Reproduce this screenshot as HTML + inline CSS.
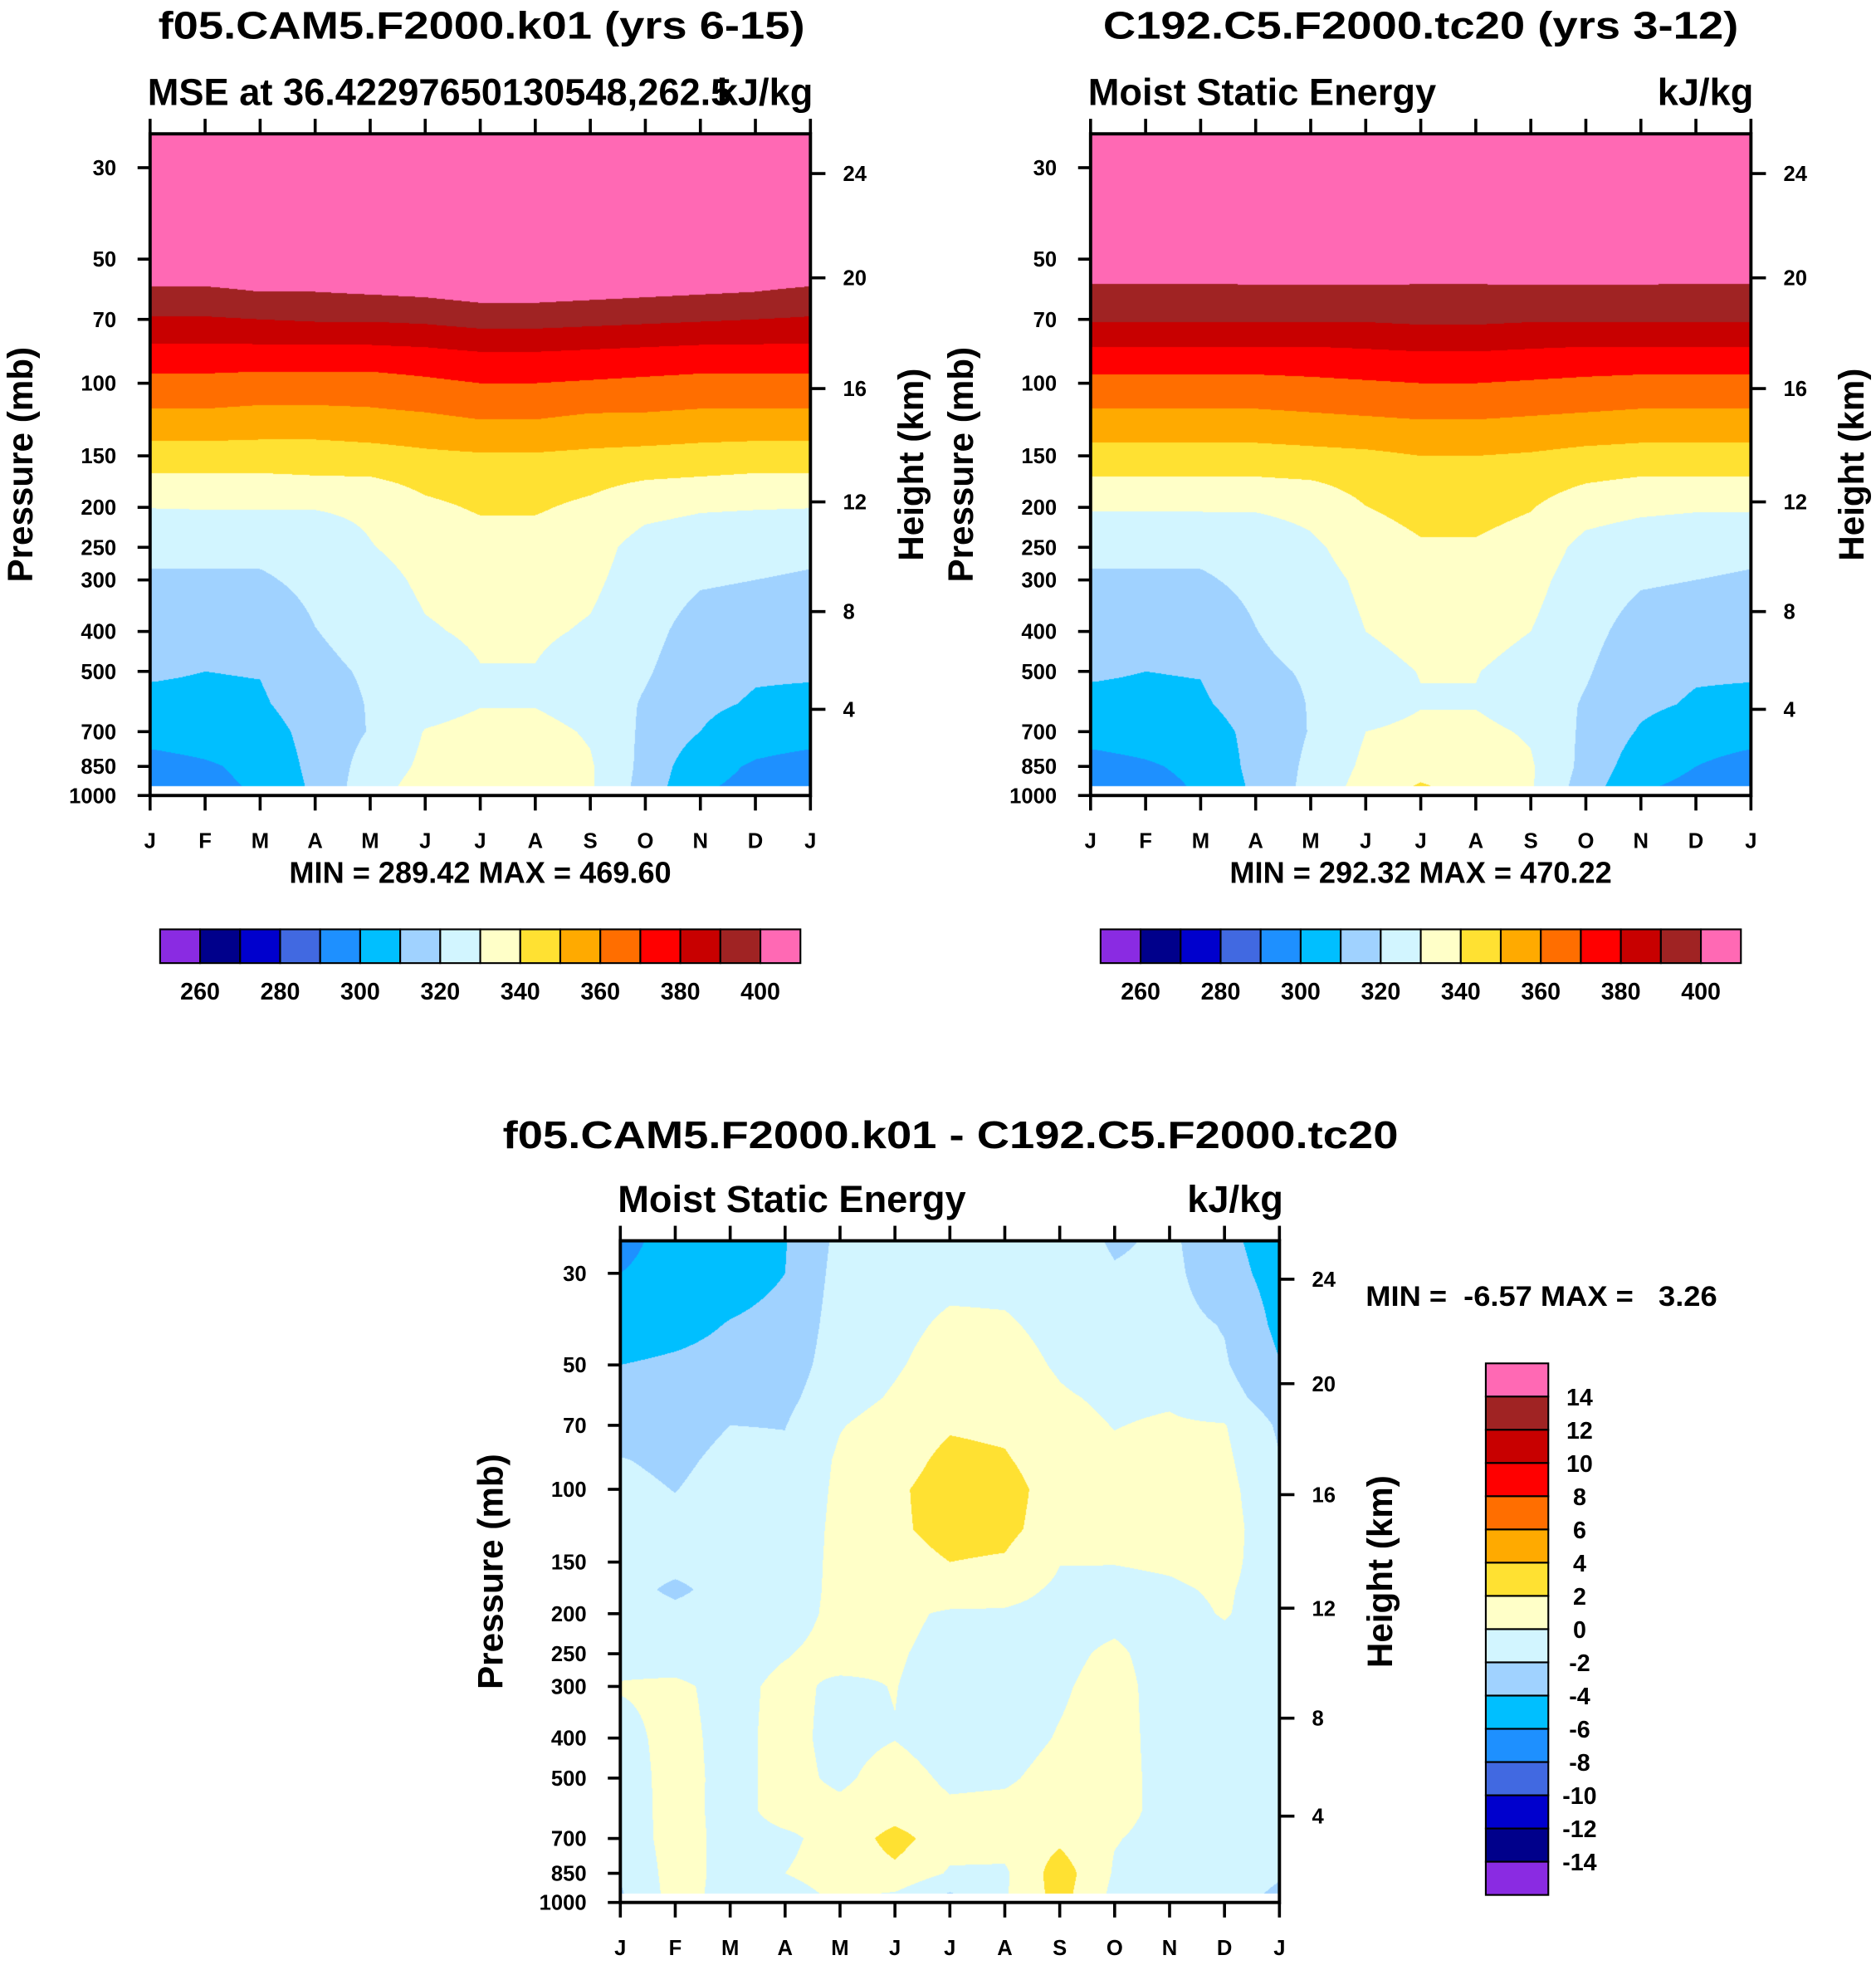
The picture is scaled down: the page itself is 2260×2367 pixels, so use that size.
<!DOCTYPE html>
<html><head><meta charset="utf-8"><title>MSE annual cycle</title>
<style>
html,body{margin:0;padding:0;background:#fff;}
#root{position:relative;width:2260px;height:2367px;background:#fff;overflow:hidden;}
canvas{position:absolute;}
svg{position:absolute;left:0;top:0;}
text{font-family:"Liberation Sans",Arial,sans-serif;font-weight:bold;fill:#000;}
</style></head>
<body>
<div id="root">
<canvas id="c1"></canvas>
<canvas id="c2"></canvas>
<canvas id="c3"></canvas>
<svg id="ov" width="2260" height="2367" viewBox="0 0 1500 1571" preserveAspectRatio="none"></svg>
</div>
<script>
// ---------- DATA ----------
const months = ["J","F","M","A","M","J","J","A","S","O","N","D","J"];
const levels = [25,30,40,50,60,70,85,100,125,150,175,200,250,300,400,500,600,700,850,950];
const pressureTicks = [30,50,70,100,150,200,250,300,400,500,700,850,1000];
const heightTicks = [4,8,12,16,20,24];
const heightTickP = [618,358,194,103,55.5,31];
const mseLevelsA = [260,280,300,320,340,360,380,400];
const diffLevels = [14,12,10,8,6,4,2,0,-2,-4,-6,-8,-10,-12,-14];
const palette = ["#8a2be2","#00008b","#0000cd","#4169e1","#1e90ff","#00bfff","#a0d2ff","#d2f5ff","#ffffc8","#ffe132","#ffaa00","#ff6e00","#ff0000","#c80000","#a02323","#ff69b4"];

// control run (f05.CAM5) MSE kJ/kg, rows = levels, cols = months
const mseCtl = [
[430,430,430,430,430,430,430,430,430,430,430,430,430],
[425,425,425,425,425,425,425,425,425,425,425,425,425],
[420,420,420,420,420,420,420,420,420,420,420,420,420],
[410,410,410,411,411,412,413,413,412,411,411,410,410],
[398,398,400,400,401,402,404,404,403,402,401,400,398],
[389,389,390,391,391,392,394,394,393,392,391,390,389],
[376,376,376,376,376,377,379,379,378,377,376,376,376],
[367,367,366,366,366,368,370,370,369,368,367,367,367],
[356,356,355,355,356,357,359,359,357,357,356,356,356],
[345,345,345,345,346,348,349,349,348,347,346,345,345],
[337,337,337,338,338,342,344,344,342,339,338,337,337],
[330.2,330.5,330.5,330.5,332,338,341,341,338,333,331,330.5,330.2],
[322,322,322,323,329.5,334,336,336,334,326,324,323,322],
[319,319,319,322,326,332,334,334,332,325,321,320,319],
[314,314,314,319.8,323,329,331.5,331.5,329,323,316,315,314],
[311,310,310.5,318,321,325,329.6,329.6,325,321,314,311,311],
[308,308,308.5,316,320.5,326,329.5,329.5,326,319,312,309,308],
[303,304,305,314,320.5,330.5,333,333,329,318,310,304,303],
[297,299,302,313,324,332,336,336,331,317,303,299,297],
[295,298,301,312,326,334,337,337,331,316,301,298,295]];

// test run (C192.C5) MSE kJ/kg
const mseTest = [
[430,430,430,430,430,430,430,430,430,430,430,430,430],
[425,425,425,425,425,425,425,425,425,425,425,425,425],
[420,420,420,420,420,420,420,420,420,420,420,420,420],
[409,409,409,409,409,409,410,410,409,409,409,409,409],
[397,397,397,397.5,397.5,397.5,397,397,397.5,397.5,397.5,397,397],
[391,391,391,391,391,391,392,392,391,391,391,391,391],
[377,377,377,377,377,378,379,379,378,377,377,377,377],
[367,367,367,367,368,369,370,370,369,368,367,367,367],
[356,356,356,356,357,358,359,359,358,357,356,356,356],
[346,346,346,346,347,348,350,350,349,347,346,346,346],
[338,338,338,338,339,343,346,346,344,340,338,338,338],
[331,331,331,331,333,339.8,343,343,340.5,334,332,331,331],
[322,322,322,323,328,335,339,339,336,327,324,323,322],
[319,319,319,322,326,332,336,336,333,325,321,320,319],
[314,314,314,319.8,324,330,333,333,330,323,316,315,314],
[311,310,310.5,318,321,327,330.3,330.3,327,321,313,311,311],
[308,308,308.5,315,320.5,326,329.5,329.5,326,319,312,309,308],
[303,304,305,313,320.5,330,332,332,329,318,309,304,303],
[297,299,302,313,322,332,336,336,331,317,304,300,297],
[294,297,301,312,323,334,341,336,331,315,301,298,294]];

// difference (ctl - test)
const mseDiff = [
[-6.8,-5,-5,-4.1,-1.5,-1,-0.9,-0.9,-0.8,-2.3,-1.6,-3.5,-5],
[-6,-5,-4.8,-4,-1.3,-0.8,-0.5,-0.5,-0.7,-1.8,-1.5,-3.2,-4.8],
[-5,-4.6,-3.9,-3.5,-1.1,-0.5,0.3,0.2,-0.5,-1.2,-1.4,-2.1,-4.5],
[-4,-3.7,-3.4,-3,-1,-0.2,0.8,0.7,-0.2,-1,-1.3,-1.8,-3.9],
[-3.5,-3.2,-3,-2.5,-0.7,0.2,1.2,1.1,0.2,-0.3,-0.2,-1.2,-3.1],
[-3,-2.8,-2,-2.05,-0.1,0.8,1.8,1.6,0.5,-0.05,0.2,0.1,-2.3],
[-1.9,-2.4,-1.5,-1.7,0.3,1.2,2.5,2.2,0.8,0.3,0.6,0.4,-1.9],
[-1.5,-2.05,-1.2,-1.5,0.4,1.7,2.8,2.8,1,0.5,0.8,0.6,-1.5],
[-1.2,-1.5,-1,-1.3,0.5,1.7,2.6,2.5,1,0.6,0.8,0.7,-1.2],
[-1,-1.2,-1,-1.1,0.5,1.3,2,1.8,0.05,0.05,0.2,0.5,-1],
[-1,-2.5,-1,-1,0.5,1,1.3,0.6,-0.3,-0.4,-0.2,0.2,-0.8],
[-0.8,-1.3,-0.9,-0.8,0.5,0.5,-0.3,-0.2,-0.5,-0.5,-0.5,0.1,-0.7],
[-0.5,-0.8,-0.7,-0.1,0.6,0.2,-0.6,-0.5,-0.4,0.3,-0.8,-0.5,-0.6],
[0.1,0.3,-0.5,0.4,-0.3,0.05,-0.8,-0.7,-0.2,0.6,-0.8,-0.7,-0.6],
[-0.5,0.5,-0.5,0.5,-0.5,-0.05,-0.8,-0.6,0.1,0.7,-0.8,-0.8,-0.7],
[-0.8,0.6,-0.5,0.5,-0.3,0.7,-0.3,-0.2,0.5,0.7,-0.7,-0.8,-0.8],
[-1,0.7,-0.6,0.6,0.4,1,0.3,0.4,0.7,0.6,-0.6,-0.8,-0.9],
[-1.2,0.8,-0.6,-0.3,0.6,2.8,0.7,0.8,1.6,0.1,-0.6,-0.8,-1.1],
[-1.8,0.8,-0.6,0,0.6,1.5,-0.2,-0.3,3,-0.2,-0.5,-1,-1.8],
[-2.2,0.8,-0.7,-0.5,0.3,-0.1,-2.1,-0.2,2.8,-0.5,-0.6,-1.2,-2.3]];

// ---------- LAYOUT ----------
const S = 2260/1500;
const NS = "http://www.w3.org/2000/svg";
const ov = document.getElementById('ov');

function hexRGB(h){return [parseInt(h.substr(1,2),16),parseInt(h.substr(3,2),16),parseInt(h.substr(5,2),16)];}
const palRGB = palette.map(hexRGB);

function mk(tag, attrs, parent){
  const e = document.createElementNS(NS, tag);
  for (const k in attrs) e.setAttribute(k, attrs[k]);
  (parent||ov).appendChild(e);
  return e;
}
function txt(str, x, y, size, anchor, parent){
  const t = mk('text', {x:x, y:y, 'font-size':size, 'text-anchor':anchor||'start'}, parent);
  t.textContent = str;
  return t;
}

function interp(data, m, p){
  const lp = Math.log10(Math.max(levels[0], p));
  let i = 0;
  while (i < levels.length-2 && Math.log10(levels[i+1]) < lp) i++;
  const l0 = Math.log10(levels[i]), l1 = Math.log10(levels[i+1]);
  let fy = (lp-l0)/(l1-l0); fy = Math.max(0, Math.min(1, fy));
  let j = Math.min(11, Math.floor(m)); let fx = m - j;
  const a = data[i][j], b = data[i][j+1], c = data[i+1][j], d = data[i+1][j+1];
  return (a*(1-fx)+b*fx)*(1-fy) + (c*(1-fx)+d*fx)*fy;
}

function renderPanel(canvasId, data, P, idxFn){
  const cv = document.getElementById(canvasId);
  const L = Math.round(P.x0*S), T = Math.round(P.yt*S);
  const W = Math.round(P.x1*S) - L, H = Math.round(P.yb*S) - T;
  cv.width = W; cv.height = H;
  cv.style.left = L+'px'; cv.style.top = T+'px';
  cv.style.width = W+'px'; cv.style.height = H+'px';
  const ctx = cv.getContext('2d');
  const img = ctx.createImageData(W, H);
  for (let r = 0; r < H; r++){
    const yd = (T + r + 0.5)/S;
    const p = Math.pow(10, 3 - (P.yb - yd)/P.k);
    if (p > levels[levels.length-1]) continue;
    for (let c = 0; c < W; c++){
      const xd = (L + c + 0.5)/S;
      const m = Math.max(0, Math.min(12, (xd - P.x0)/(P.x1 - P.x0)*12));
      const v = interp(data, m, p);
      const col = palRGB[idxFn(v)];
      const o = (r*W + c)*4;
      img.data[o]=col[0]; img.data[o+1]=col[1]; img.data[o+2]=col[2]; img.data[o+3]=255;
    }
  }
  ctx.putImageData(img, 0, 0);
}

function yOfP(P, p){ return P.yb - P.k*(3 - Math.log10(p)); }

function axes(P, g){
  const fr = mk('rect', {x:P.x0, y:P.yt, width:P.x1-P.x0, height:P.yb-P.yt, fill:'none', stroke:'#000', 'stroke-width':2.6}, g);
  
  
  months.forEach((mo, i) => {
    const x = P.x0 + (P.x1-P.x0)*i/12;
    const tb = mk('line', {x1:x, y1:P.yb, x2:x, y2:P.yb+12, stroke:'#000', 'stroke-width':2.4}, g);
    
    
    const tt = mk('line', {x1:x, y1:P.yt, x2:x, y2:P.yt-12, stroke:'#000', 'stroke-width':2.4}, g);
    
    
    const lb = txt(mo, x, P.yb+42, 17, 'middle', g);
    
    
  });
  pressureTicks.forEach(p => {
    const y = yOfP(P, p);
    const t = mk('line', {x1:P.x0-10, y1:y, x2:P.x0, y2:y, stroke:'#000', 'stroke-width':2.4}, g);
    
    
    const lb = txt(String(p), P.x0-27, y+6, 17, 'end', g);
    
    
  });
  heightTicks.forEach((h, i) => {
    const y = yOfP(P, heightTickP[i]);
    const t = mk('line', {x1:P.x1, y1:y, x2:P.x1+12, y2:y, stroke:'#000', 'stroke-width':2.4}, g);
    
    
    const lb = txt(String(h), P.x1+26, y+6, 17, 'start', g);
    
    
  });
  const cy = (P.yt + P.yb)/2;
  const pt = txt('Pressure (mb)', 0, 0, 28, 'middle', g);
  pt.setAttribute('transform', 'translate(' + (P.x0-94) + ',' + cy + ') rotate(-90)');
  
  
  const ht = txt('Height (km)', 0, 0, 28, 'middle', g);
  ht.setAttribute('transform', 'translate(' + (P.x1+90) + ',' + cy + ') rotate(-90)');
  
  
}

const P1 = {x0:120, x1:648, yt:107, yb:636, k:329.6};
const P2 = {x0:872, x1:1400, yt:107, yb:636, k:329.6};
const P3 = {x0:496, x1:1023, yt:992, yb:1521, k:330.3};

const idxMSE = v => Math.max(0, Math.min(15, Math.floor((v-260)/10)+1));
const idxDiff = v => Math.max(0, Math.min(15, Math.floor((v+14)/2)+1));

renderPanel('c1', mseCtl, P1, idxMSE);
renderPanel('c2', mseTest, P2, idxMSE);
renderPanel('c3', mseDiff, P3, idxDiff);

// ---- panel 1 ----
const g1 = mk('g', {});


axes(P1, g1);
let t;
t = txt('f05.CAM5.F2000.k01 (yrs 6-15)', 385, 31, 31, 'middle', g1);
t.setAttribute('textLength', 517);
t.setAttribute('lengthAdjust', 'spacingAndGlyphs');


t = txt('MSE at 36.42297650130548,262.5', 118, 84, 30, 'start', g1);


t = txt('kJ/kg', 650, 84, 30, 'end', g1);


t = txt('MIN = 289.42 MAX = 469.60', 384, 706, 24, 'middle', g1);



// ---- panel 2 ----
const g2 = mk('g', {});


axes(P2, g2);
t = txt('C192.C5.F2000.tc20 (yrs 3-12)', 1136, 31, 31, 'middle', g2);
t.setAttribute('textLength', 508);
t.setAttribute('lengthAdjust', 'spacingAndGlyphs');


t = txt('Moist Static Energy', 870, 84, 30, 'start', g2);


t = txt('kJ/kg', 1402, 84, 30, 'end', g2);


t = txt('MIN = 292.32 MAX = 470.22', 1136, 706, 24, 'middle', g2);



[[128, g1], [880, g2]].forEach(([cx0, g]) => {
  const cb = mk('g', {}, g);
  
  
  palette.forEach((col, i) => {
    const r = mk('rect', {x:cx0+32*i, y:743, width:32, height:27, fill:col, stroke:'#000', 'stroke-width':1.4}, cb);
    
    
  });
  mseLevelsA.forEach((lv, i) => {
    const x = cx0 + 32 + 64*i;
    const l = txt(String(lv), x, 799, 19, 'middle', cb);
    
    
  });
});

// ---- panel 3 ----
const g3 = mk('g', {});


axes(P3, g3);
t = txt('f05.CAM5.F2000.k01 - C192.C5.F2000.tc20', 760, 918, 31, 'middle', g3);
t.setAttribute('textLength', 716);
t.setAttribute('lengthAdjust', 'spacingAndGlyphs');


t = txt('Moist Static Energy', 494, 969, 30, 'start', g3);


t = txt('kJ/kg', 1026, 969, 30, 'end', g3);


t = txt('MIN =  -6.57 MAX =   3.26', 1092, 1044, 23, 'start', g3);
t.style.whiteSpace = 'pre';
t.setAttribute('textLength', 281);
t.setAttribute('lengthAdjust', 'spacingAndGlyphs');



const cb3 = mk('g', {}, g3);


const bh = (1515-1090)/16;
palette.slice().reverse().forEach((col, i) => {
  const r = mk('rect', {x:1188, y:1090+bh*i, width:50, height:bh, fill:col, stroke:'#000', 'stroke-width':1.4}, cb3);
  
  
});
diffLevels.forEach((lv, i) => {
  const y = 1090 + bh*(i+1) + 7;
  const l = txt(String(lv), 1263, y, 19, 'middle', cb3);
  
  
});
</script>
</body></html>
